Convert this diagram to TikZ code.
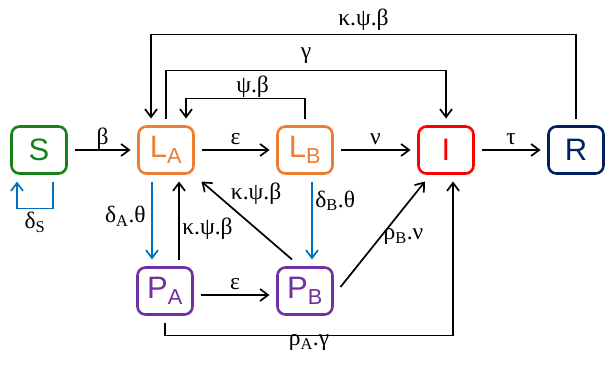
\documentclass[tikz,border=0pt]{standalone}
\usepackage{fontspec}
\setmainfont{Liberation Serif}
\setsansfont{Liberation Sans}
\usetikzlibrary{arrows.meta, positioning}

\definecolor{sgreen}{RGB}{22,130,22}
\definecolor{lorange}{RGB}{237,125,49}
\definecolor{ired}{RGB}{255,0,0}
\definecolor{rnavy}{RGB}{0,32,96}
\definecolor{ppurple}{RGB}{112,48,160}
\definecolor{dblue}{RGB}{0,112,192}

\begin{document}
\begin{tikzpicture}[x=1pt, y=-1pt,
  comp/.style={rectangle, rounded corners=8pt, draw, line width=2.6pt,
               minimum width=55pt, minimum height=47pt, outer sep=8pt,
               font=\sffamily\fontsize{31}{31}\selectfont},
  arr/.style={-{Straight Barb[length=8pt,width=12pt]}, line width=1.7pt},
  barr/.style={arr, draw=dblue},
  lbl/.style={font=\fontsize{23.5}{23.5}\selectfont, inner sep=2.5pt,
              text height=0.7em, text depth=0.25em}]
  \useasboundingbox (0,0) rectangle (605,369);

  % --- compartimentos ---
  \node[comp, draw=sgreen, text=sgreen]   (S)  at (39,150)  {S};
  \node[comp, draw=lorange, text=lorange] (LA) at (166,150) {L\textsubscript{A}};
  \node[comp, draw=lorange, text=lorange] (LB) at (305,150) {L\textsubscript{B}};
  \node[comp, draw=ired, text=ired]       (I)  at (446,150) {I};
  \node[comp, draw=rnavy, text=rnavy]     (R)  at (576,150) {R};
  \node[comp, draw=ppurple, text=ppurple] (PA) at (165,291) {P\textsubscript{A}};
  \node[comp, draw=ppurple, text=ppurple] (PB) at (305,291) {P\textsubscript{B}};

  % --- cadeia principal ---
  \draw[arr] (S) -- node[lbl, above] {β} (LA);
  \draw[arr] (LA) -- node[lbl, above] {ε} (LB);
  \draw[arr] (LB) -- node[lbl, above] {ν} (I);
  \draw[arr] (I) -- node[lbl, above] {τ} (R);

  % --- retornos por cima ---
  \draw[arr] (LB.north) -- ++(0,-20) -| node[lbl, above, pos=0.22] {ψ.β} ([xshift=20pt]LA.north);
  \draw[arr] (LA.north) -- ++(0,-48) -| node[lbl, above=6pt, pos=0.25] {γ} (I.north);
  \draw[arr] (R.north) -- ++(0,-84) -| node[lbl, above=3pt, pos=0.25] {κ.ψ.β} ([xshift=-15pt]LA.north);

  % --- perda em S ---
  \draw[barr] ([xshift=14pt]S.south) -- ++(0,27) -| node[lbl, below=10pt, pos=0.25] {δ\textsubscript{S}} ([xshift=-22pt]S.south);

  % --- compartimentos P ---
  \draw[barr] ([xshift=-14pt]LA.south) -- node[lbl, left=3pt] {δ\textsubscript{A}.θ} ([xshift=-14pt]LA.south |- PA.north);
  \draw[arr] ([xshift=14pt]PA.north) -- node[lbl, right, pos=0.35] {κ.ψ.β} ([xshift=14pt]PA.north |- LA.south);
  \draw[barr] ([xshift=7pt]LB.south) -- node[lbl, right, pos=0.3] {δ\textsubscript{B}.θ} ([xshift=7pt]LB.south |- PB.north);
  \draw[arr] ([yshift=-4pt]PA.east) -- node[lbl, above] {ε} ([yshift=-4pt]PB.west);
  \draw[arr] ([xshift=-13pt]PB.north) -- node[lbl, pos=0.8, right=8pt] {κ.ψ.β} (LA.south east);
  \draw[arr] ([yshift=4pt]PB.east) -- node[lbl, pos=0.47, right] {ρ\textsubscript{B}.ν} ([xshift=-21pt]I.south);
  \draw[arr] (PA.south) -- ++(0,13) -| node[lbl, below, pos=0.25] {ρ\textsubscript{A}.γ} ([xshift=7pt]I.south);
\end{tikzpicture}
\end{document}
